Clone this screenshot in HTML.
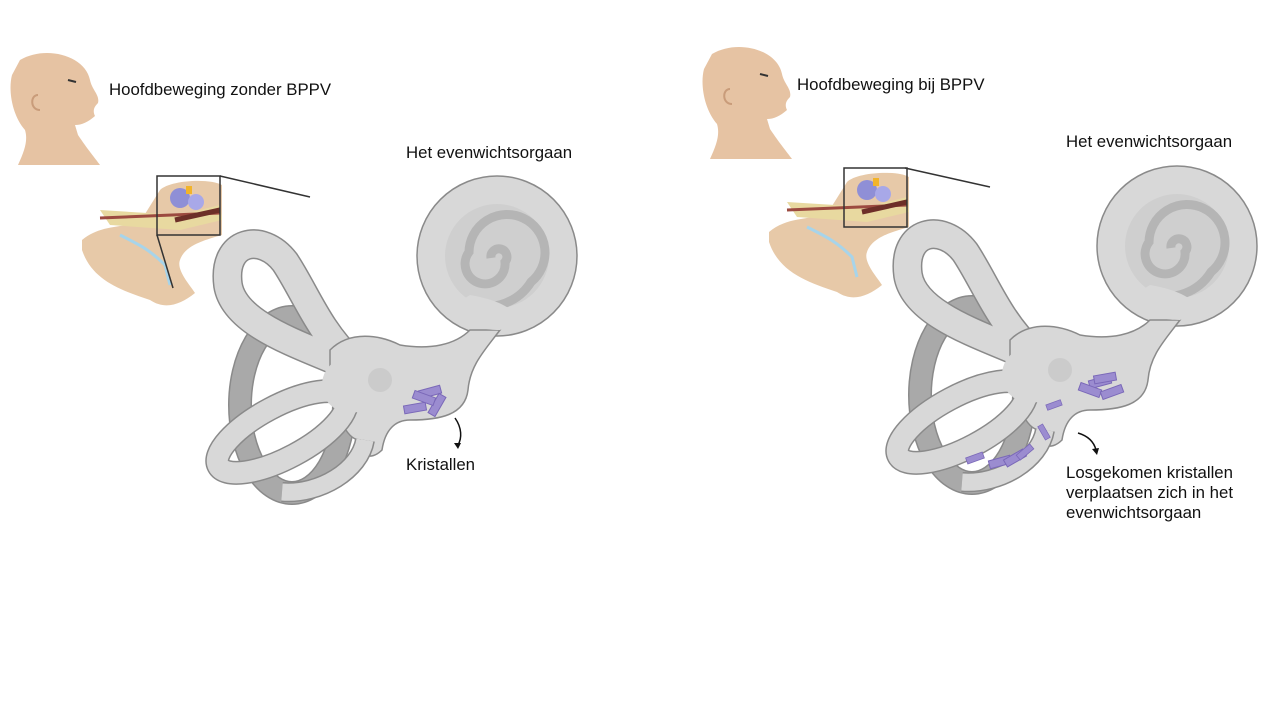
<!DOCTYPE html>
<html><head><meta charset="utf-8"><style>
html,body{margin:0;padding:0;background:#fff;}
svg{display:block;}
text{font-family:"Liberation Sans",sans-serif;font-size:16.8px;fill:#111;}
</style></head><body>
<svg width="1280" height="720" viewBox="0 0 1280 720" xmlns="http://www.w3.org/2000/svg">
<defs>
<g id="lab">
  <ellipse cx="292" cy="405" rx="52" ry="88" fill="none" stroke="#8a8a8a" stroke-width="24"/>
  <ellipse cx="292" cy="405" rx="52" ry="88" fill="none" stroke="#a9a9a9" stroke-width="21"/>
  <path d="M360,372 C320,350 235,330 228,285 C222,240 262,232 285,262 C305,292 318,330 352,362" fill="none" stroke="#8a8a8a" stroke-width="30"/>
  <path d="M360,372 C320,350 235,330 228,285 C222,240 262,232 285,262 C305,292 318,330 352,362" fill="none" stroke="#d8d8d8" stroke-width="27"/>
  <circle cx="497" cy="256" r="80" fill="#d8d8d8" stroke="#8a8a8a" stroke-width="1.5"/>
  <circle cx="497" cy="256" r="52" fill="#cfcfcf"/>
  <path d="M497,258 m-6,0 a8,8 0 1,1 14,4 a20,20 0 1,1 -36,-10 a38,38 0 1,1 62,30 a52,52 0 0,1 -60,22" fill="none" stroke="#b5b5b5" stroke-width="9"/>
  <path d="M330,350 C350,330 380,335 400,345 C430,350 455,345 470,330 L500,330 C485,350 470,365 468,390 C465,415 440,420 410,420 C395,420 385,430 382,450 C370,462 358,455 360,440 C345,440 335,410 330,380 Z" fill="#d8d8d8" stroke="#8a8a8a" stroke-width="1.5"/>
  <path d="M462,300 C470,320 470,330 500,330 L520,320 C515,310 500,300 470,295 Z" fill="#d8d8d8"/>
  <ellipse cx="282" cy="432" rx="72" ry="26" transform="rotate(-28 282 432)" fill="none" stroke="#8a8a8a" stroke-width="24"/>
  <ellipse cx="282" cy="432" rx="72" ry="26" transform="rotate(-28 282 432)" fill="none" stroke="#d8d8d8" stroke-width="21"/>
  <path d="M365,440 C360,470 320,495 282,492" fill="none" stroke="#8a8a8a" stroke-width="20"/>
  <path d="M365,440 C360,470 320,495 282,492" fill="none" stroke="#d8d8d8" stroke-width="17"/>
  <circle cx="350" cy="385" r="28" fill="#d8d8d8"/>
  <circle cx="380" cy="380" r="12" fill="#cbcbcb"/>
</g>
<g id="cry"><rect x="-11" y="-4" width="22" height="8" fill="#9b8cd0" stroke="#7a68b8" stroke-width="1"/></g>
<g id="head">
  <path d="M20,60 C45,45 85,55 90,80 C92,90 100,95 98,103 C95,106 92,110 95,116 C88,122 82,125 75,125 L78,135 C88,150 95,158 100,165 L18,165 C25,150 28,140 25,130 C12,115 8,90 12,75 Z" fill="#e6c3a3"/>
  <path d="M38,95 C30,95 30,110 40,110" fill="none" stroke="#c99c7a" stroke-width="2"/>
  <path d="M68,80 l8,2" stroke="#333" stroke-width="2"/>
</g>
<g id="ear">
  <path d="M82,240 C100,225 120,228 140,222 L160,190 C170,180 210,178 222,185 L222,235 C205,240 185,245 180,260 C176,270 190,285 195,293 C180,305 165,310 150,300 C120,290 92,280 82,250 Z" fill="#e7c9a8"/>
  <path d="M100,210 L180,215 L220,205 L222,220 L180,230 L110,225 Z" fill="#e8d9a0"/>
  <path d="M100,218 L220,213" stroke="#9c4a40" stroke-width="3"/>
  <path d="M120,235 C140,245 150,250 165,265 L170,285" fill="none" stroke="#a7d4ea" stroke-width="3"/>
  <circle cx="180" cy="198" r="10" fill="#8f8fd6"/>
  <circle cx="196" cy="202" r="8" fill="#a8a8e8"/>
  <rect x="186" y="186" width="6" height="8" fill="#f2b42a"/>
  <path d="M175,220 L220,210" stroke="#6d2f28" stroke-width="5"/>
  <rect x="157" y="176" width="63" height="59" fill="none" stroke="#333" stroke-width="1.5"/>
</g>
</defs>

<use href="#head"/>
<text x="109" y="95">Hoofdbeweging zonder BPPV</text>
<use href="#ear"/>
<line x1="220" y1="176" x2="310" y2="197" stroke="#333" stroke-width="1.5"/>
<line x1="157" y1="235" x2="173" y2="288" stroke="#333" stroke-width="1.5"/>
<text x="406" y="158">Het evenwichtsorgaan</text>
<use href="#lab"/>
<use href="#cry" transform="translate(430,392) rotate(-15)"/>
<use href="#cry" transform="translate(415,408) rotate(-10)"/>
<use href="#cry" transform="translate(437,405) rotate(-60)"/>
<use href="#cry" transform="translate(424,398) rotate(20)"/>
<path d="M455,418 C462,428 462,438 458,445" fill="none" stroke="#111" stroke-width="1.5"/>
<path d="M454,443 l4,6 l3,-6 z" fill="#111"/>
<text x="406" y="470">Kristallen</text>

<use href="#head" transform="translate(692,-6)"/>
<text x="797" y="90">Hoofdbeweging bij BPPV</text>
<use href="#ear" transform="translate(687,-8)"/>
<line x1="905" y1="168" x2="990" y2="187" stroke="#333" stroke-width="1.5"/>
<text x="1066" y="147">Het evenwichtsorgaan</text>
<use href="#lab" transform="translate(680,-10)"/>
<use href="#cry" transform="translate(1100,382) rotate(-15)"/>
<use href="#cry" transform="translate(1090,390) rotate(20)"/>
<use href="#cry" transform="translate(1112,392) rotate(-20)"/>
<use href="#cry" transform="translate(1105,378) rotate(-10)"/>
<use href="#cry" transform="translate(1054,405) rotate(-20) scale(0.7)"/>
<use href="#cry" transform="translate(1044,432) rotate(60) scale(0.7)"/>
<use href="#cry" transform="translate(975,458) rotate(-20) scale(0.8)"/>
<use href="#cry" transform="translate(1000,462) rotate(-15)"/>
<use href="#cry" transform="translate(1015,458) rotate(-30)"/>
<use href="#cry" transform="translate(1025,452) rotate(-40) scale(0.8)"/>
<path d="M1078,433 C1088,436 1094,442 1096,450" fill="none" stroke="#111" stroke-width="1.5"/>
<path d="M1092,449 l5,6 l2,-7 z" fill="#111"/>
<text x="1066" y="478">Losgekomen kristallen</text>
<text x="1066" y="498">verplaatsen zich in het</text>
<text x="1066" y="518">evenwichtsorgaan</text>
</svg>
</body></html>
